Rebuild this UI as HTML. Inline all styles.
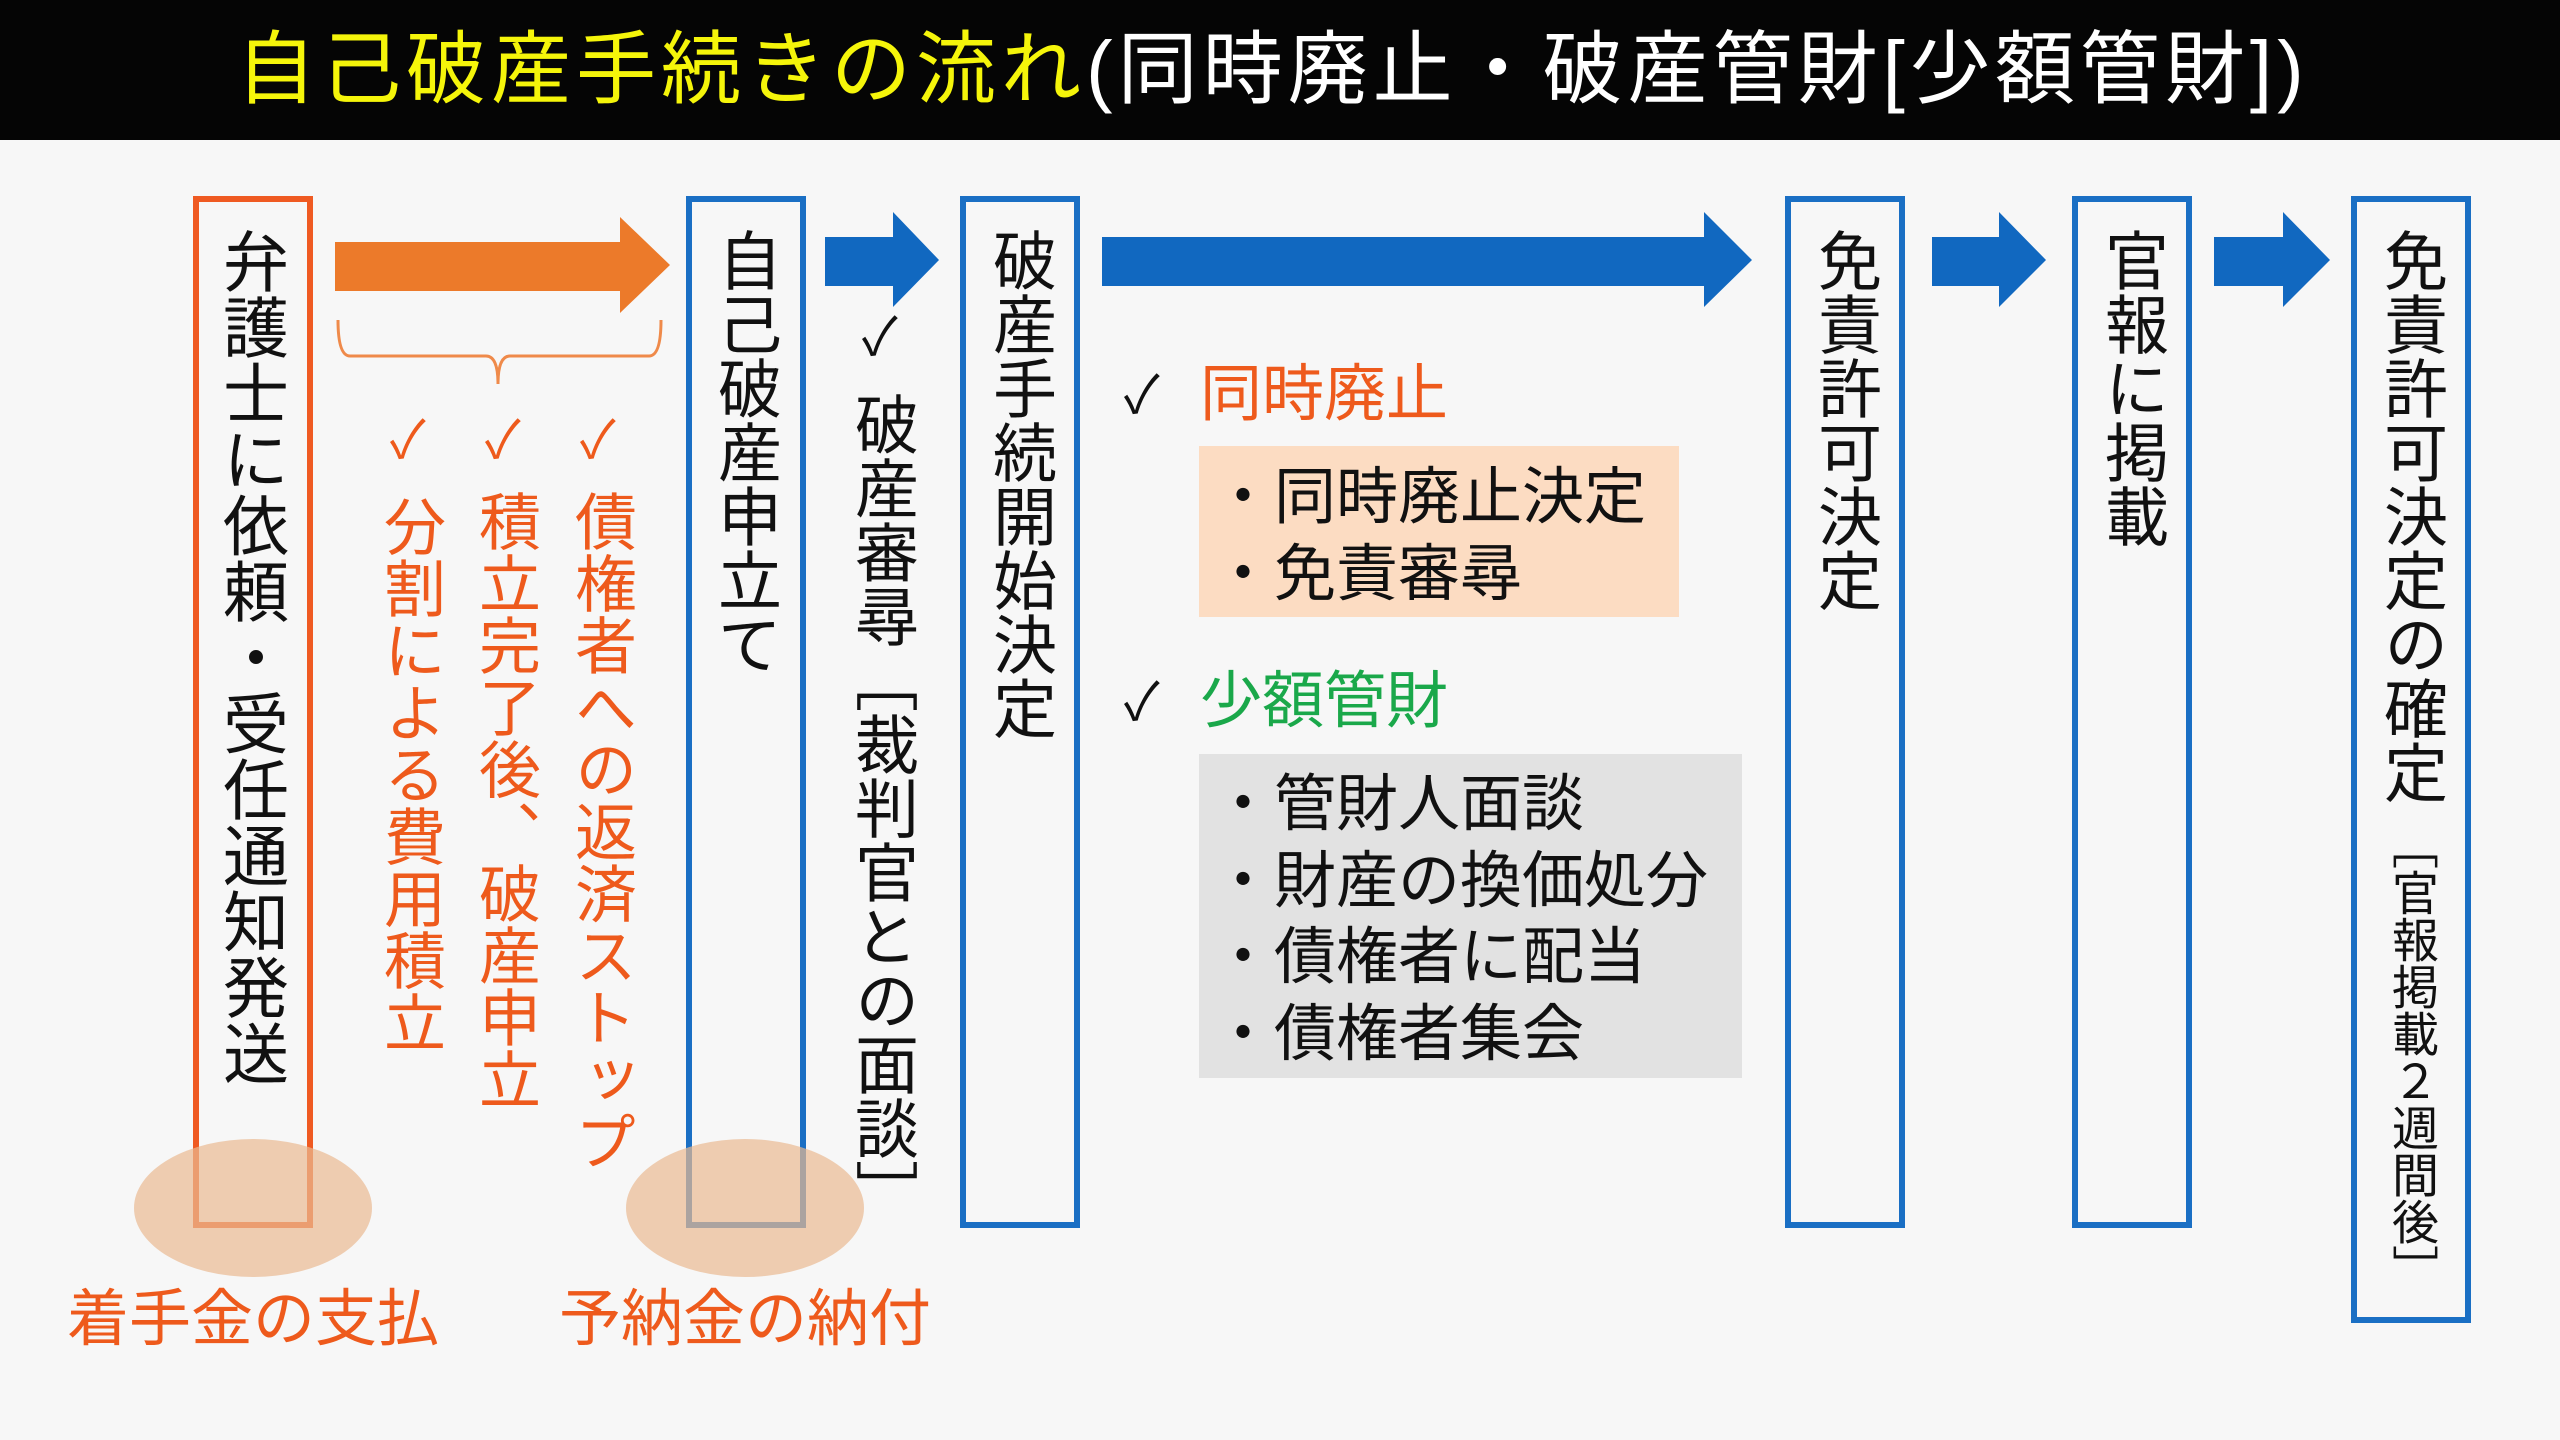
<!DOCTYPE html>
<html><head><meta charset="utf-8"><style>
html,body{margin:0;padding:0}
body{width:2560px;height:1440px;background:#f7f7f7;position:relative;overflow:hidden;font-family:"Liberation Sans","Noto Sans CJK JP",sans-serif}
.title{position:absolute;left:0;top:0;width:2560px;height:140px;background:#050505;}
.title div{position:absolute;left:236px;top:20px;font-size:80px;line-height:100px;color:#fff;white-space:nowrap;letter-spacing:5px}
.y{color:#f5f50a}
.box{position:absolute;box-sizing:border-box;border:6px solid #1a6fc4;top:196px;height:1032px;width:120px}
.v{position:absolute;writing-mode:vertical-rl;white-space:nowrap;line-height:1}
.blk{color:#111;font-size:64px}
.chk{position:absolute;font-size:52px;line-height:1}
.list{position:absolute;font-size:62px;line-height:1;color:#111;white-space:nowrap}
.or,.list.or,.chk.or{color:#ee5a1c}
</style></head><body>
<div class="title"><div><span class="y">自己破産手続きの流れ</span>(同時廃止・破産管財[少額管財])</div></div>

<div class="box" style="left:193px;border-color:#ef5a22"></div>
<div class="box" style="left:686px"></div>
<div class="box" style="left:960px"></div>
<div class="box" style="left:1785px"></div>
<div class="box" style="left:2072px"></div>
<div class="box" style="left:2351px;height:1127px"></div>

<svg style="position:absolute;left:0;top:0" width="2560" height="1440">
<polygon points="335,242 620,242 620,217 670,265 620,313 620,291 335,291" fill="#ec7a2a"/>
<path d="M338,320 Q338,356 350,356 L486,356 Q498,356 498,384 Q498,356 510,356 L649,356 Q661,356 661,320" fill="none" stroke="#ef8a4a" stroke-width="3"/>
<polygon points="825,237 893,237 893,212 939,260 893,307 893,286 825,286" fill="#1168c0"/>
<polygon points="1102,237 1704,237 1704,212 1752,260 1704,307 1704,286 1102,286" fill="#1168c0"/>
<polygon points="1932,237 1999,237 1999,212 2046,260 1999,307 1999,286 1932,286" fill="#1168c0"/>
<polygon points="2214,237 2283,237 2283,212 2330,260 2283,307 2283,286 2214,286" fill="#1168c0"/>
<ellipse cx="253" cy="1208" rx="119" ry="69" fill="#eab992" opacity="0.7"/>
<ellipse cx="745" cy="1208" rx="119" ry="69" fill="#eab992" opacity="0.7"/>
</svg>

<div class="v blk" style="left:218px;top:228px;font-size:66px">弁護士に依頼・受任通知発送</div>
<div class="v blk" style="left:713px;top:228px">自己破産申立て</div>
<div class="v blk" style="left:850px;top:392px">破産審尋［裁判官との面談］</div>
<div class="v blk" style="left:988px;top:228px">破産手続開始決定</div>
<div class="v blk" style="left:1813px;top:228px">免責許可決定</div>
<div class="v blk" style="left:2100px;top:228px">官報に掲載</div>
<div class="v blk" style="left:2379px;top:228px">免責許可決定の確定</div>
<div class="v blk" style="left:2388px;top:822px;font-size:47px">［官報掲載２週間後］</div>

<div class="v or" style="left:377px;top:495px;font-size:62px">分割による費用積立</div>
<div class="v or" style="left:472px;top:490px;font-size:62px">積立完了後、破産申立</div>
<div class="v or" style="left:568px;top:490px;font-size:62px">債権者への返済ストップ</div>

<div class="chk or" style="left:390px;top:415px">✓</div>
<div class="chk or" style="left:485px;top:415px">✓</div>
<div class="chk or" style="left:580px;top:415px">✓</div>
<div class="chk" style="left:862px;top:312px;color:#111">✓</div>

<div class="chk" style="left:1124px;top:370px;color:#111">✓</div>
<div class="list or" style="left:1200px;top:364px">同時廃止</div>
<div style="position:absolute;left:1199px;top:446px;width:480px;height:171px;background:#fcdcc2"></div>
<div class="list" style="left:1212px;top:467px">・同時廃止決定</div>
<div class="list" style="left:1212px;top:544px">・免責審尋</div>

<div class="chk" style="left:1124px;top:677px;color:#111">✓</div>
<div class="list" style="left:1200px;top:671px;color:#1aa84a">少額管財</div>
<div style="position:absolute;left:1199px;top:754px;width:543px;height:324px;background:#e2e2e2"></div>
<div class="list" style="left:1212px;top:774px">・管財人面談</div>
<div class="list" style="left:1212px;top:851px">・財産の換価処分</div>
<div class="list" style="left:1212px;top:927px">・債権者に配当</div>
<div class="list" style="left:1212px;top:1004px">・債権者集会</div>

<div class="list or" style="left:253px;top:1289px;transform:translateX(-50%)">着手金の支払</div>
<div class="list or" style="left:745px;top:1289px;transform:translateX(-50%)">予納金の納付</div>
</body></html>
